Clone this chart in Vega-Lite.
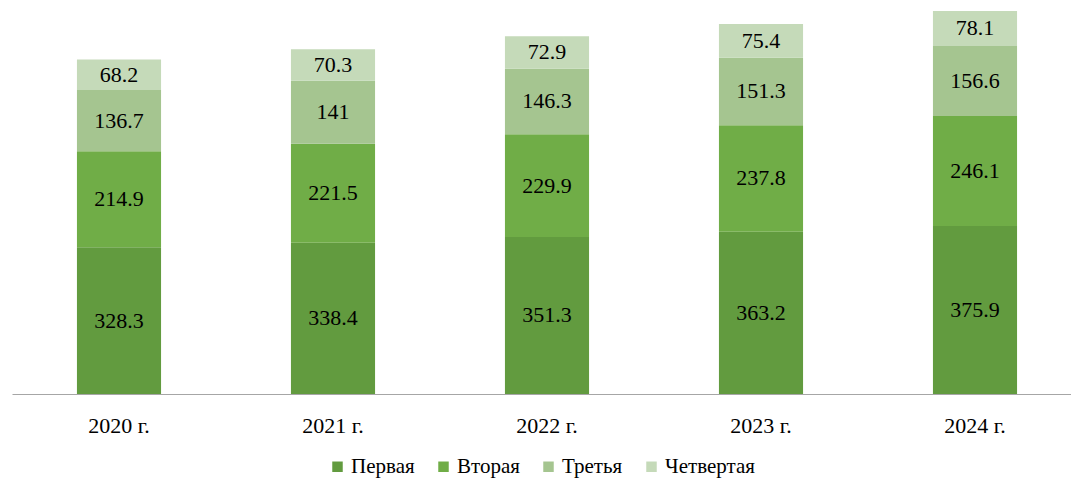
{
  "$schema": "https://vega.github.io/schema/vega-lite/v6.json",
  "autosize": "none",
  "width": 1070,
  "height": 383,
  "padding": {"left": 12, "top": 11, "right": 0, "bottom": 85},
  "background": "white",
  "config": {"view": {"stroke": null}, "font": "Liberation Serif", "legend": {"labelFont": "Liberation Serif", "labelFontSize": 21}},
  "data": {"values": [
    {"year": "2020 г.", "series": "Первая", "n": 1, "value": 328.3},
    {"year": "2020 г.", "series": "Вторая", "n": 2, "value": 214.9},
    {"year": "2020 г.", "series": "Третья", "n": 3, "value": 136.7},
    {"year": "2020 г.", "series": "Четвертая", "n": 4, "value": 68.2},
    {"year": "2021 г.", "series": "Первая", "n": 1, "value": 338.4},
    {"year": "2021 г.", "series": "Вторая", "n": 2, "value": 221.5},
    {"year": "2021 г.", "series": "Третья", "n": 3, "value": 141},
    {"year": "2021 г.", "series": "Четвертая", "n": 4, "value": 70.3},
    {"year": "2022 г.", "series": "Первая", "n": 1, "value": 351.3},
    {"year": "2022 г.", "series": "Вторая", "n": 2, "value": 229.9},
    {"year": "2022 г.", "series": "Третья", "n": 3, "value": 146.3},
    {"year": "2022 г.", "series": "Четвертая", "n": 4, "value": 72.9},
    {"year": "2023 г.", "series": "Первая", "n": 1, "value": 363.2},
    {"year": "2023 г.", "series": "Вторая", "n": 2, "value": 237.8},
    {"year": "2023 г.", "series": "Третья", "n": 3, "value": 151.3},
    {"year": "2023 г.", "series": "Четвертая", "n": 4, "value": 75.4},
    {"year": "2024 г.", "series": "Первая", "n": 1, "value": 375.9},
    {"year": "2024 г.", "series": "Вторая", "n": 2, "value": 246.1},
    {"year": "2024 г.", "series": "Третья", "n": 3, "value": 156.6},
    {"year": "2024 г.", "series": "Четвертая", "n": 4, "value": 78.1}
  ]},
  "transform": [
    {"stack": "value", "groupby": ["year"], "sort": [{"field": "n", "order": "ascending"}], "as": ["v0", "v1"]},
    {"calculate": "(datum.v0 + datum.v1) / 2", "as": "mid"}
  ],
  "encoding": {
    "x": {
      "field": "year", "type": "nominal", "title": null,
      "scale": {"paddingInner": 0.607, "paddingOuter": 0.3035},
      "axis": {
        "labelAngle": 0, "ticks": false, "domainColor": "#A6A6A6", "domainWidth": 1.2,
        "labelFont": "Liberation Serif", "labelFontSize": 22, "labelColor": "#000000",
        "labelBaseline": "middle", "labelPadding": 31
      }
    }
  },
  "layer": [
    {
      "mark": {"type": "bar"},
      "encoding": {
        "y": {"field": "v0", "type": "quantitative", "scale": {"domain": [0, 856.7], "nice": false}, "axis": null},
        "y2": {"field": "v1"},
        "color": {
          "field": "series", "type": "nominal",
          "scale": {"domain": ["Первая", "Вторая", "Третья", "Четвертая"], "range": ["#629B3F", "#70AD47", "#A5C590", "#C5DAB9"]},
          "legend": {
            "title": null, "orient": "none", "direction": "horizontal",
            "legendX": 315, "legendY": 445,
            "symbolType": "square", "symbolSize": 110, "symbolStrokeWidth": 0,
            "labelFont": "Liberation Serif", "labelFontSize": 21, "labelColor": "#000000",
            "labelOffset": 3, "columnPadding": 18
          }
        }
      }
    },
    {
      "mark": {"type": "text", "font": "Liberation Serif", "fontSize": 22, "color": "#000000", "baseline": "middle"},
      "encoding": {
        "y": {"field": "mid", "type": "quantitative"},
        "text": {"field": "value", "type": "quantitative"}
      }
    }
  ]
}
